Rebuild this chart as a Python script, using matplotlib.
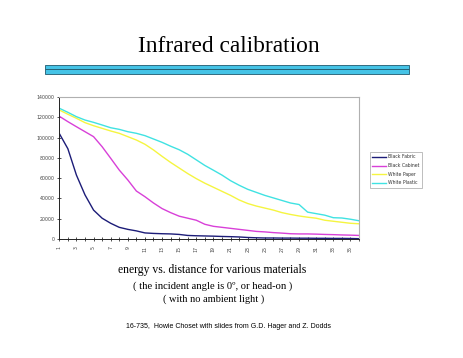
import matplotlib
matplotlib.use("Agg")
import matplotlib.pyplot as plt
from matplotlib.patches import Rectangle
import numpy as np

distance = list(range(1, 37))
x_tick_labels = [str(i) for i in range(1, 36, 2)]

black_fabric = [104000, 89000, 63000, 43500, 28500, 20500, 15500, 11500, 9500, 8000,
                6000, 5500, 5200, 5000, 4500, 3500, 3200, 3000, 2800, 2500,
                2300, 2000, 1500, 1200, 1000, 1000, 900, 900, 800, 800,
                700, 700, 600, 600, 500, 300]
black_cabinet = [121000, 115700, 110700, 105800, 100900, 91000, 79600, 68000, 58200, 47300,
                 41700, 35500, 30000, 26000, 22500, 20500, 18500, 14500, 12500, 11500,
                 10500, 9500, 8500, 7500, 7000, 6300, 5800, 5200, 5000, 5000,
                 4800, 4500, 4300, 4000, 3800, 3500]
white_paper = [127200, 123000, 119000, 114700, 111700, 109100, 106500, 104200, 100900, 97600,
               93400, 87800, 81500, 75500, 70000, 64500, 59500, 55000, 51000, 47000,
               43000, 38500, 35000, 32500, 30500, 28500, 26000, 24200, 22700, 21500,
               20500, 18500, 17500, 16500, 15500, 15000]
white_plastic = [128900, 124900, 120600, 117300, 115000, 112400, 109700, 108100, 105800, 104200,
                 101900, 98600, 95300, 91500, 88000, 83500, 78000, 72500, 67800, 63000,
                 57500, 53000, 49000, 46000, 43000, 40500, 38000, 35500, 34000, 26500,
                 25000, 23500, 21000, 20700, 19500, 18000]

series_names = ["Black Fabric", "Black Cabinet", "White Paper", "White Plastic"]
series_values = [black_fabric, black_cabinet, white_paper, white_plastic]
colors = ["#1c1c78", "#d840d8", "#f5f540", "#40e2e2"]

W, H = 463, 358
fig = plt.figure(figsize=(W / 100, H / 100), dpi=100)
fig.patch.set_facecolor("white")

# Title
fig.text(229 / W, 1 - 47 / H, "Infrared calibration", ha="center", va="center",
         family="Liberation Serif", fontsize=16.8, color="black")

# Double blue bar
for y0 in (65, 69.3):
    fig.patches.append(Rectangle((45 / W, 1 - (y0 + 4.3) / H), (409 - 45) / W, 4.3 / H,
                                 transform=fig.transFigure, facecolor="#45c3e6",
                                 edgecolor="#205a6e", linewidth=0.6))

ax = fig.add_axes([59.3 / W, 1 - 239 / H, (359 - 59.3) / W, (239 - 97) / H])
for name, vals, c in zip(series_names, series_values, colors):
    ax.plot(distance, vals, color=c, linewidth=1.0, label=name)

ax.set_xlim(1, 36)
ax.set_ylim(0, 140000)
ax.set_yticks(np.arange(0, 140001, 20000))
ax.set_yticklabels([str(v) for v in range(0, 140001, 20000)])
ax.set_xticks(distance, minor=True)
ax.set_xticks(list(range(1, 36, 2)))
ax.set_xticklabels(x_tick_labels, rotation=90)
ax.tick_params(axis="both", which="both", direction="inout", length=3.5, width=0.6,
               labelsize=3.4, labelcolor="#444444", colors="#333333", pad=1.5)
ax.tick_params(axis="x", which="major", pad=3)
ax.spines["left"].set_color("#222222")
ax.spines["bottom"].set_color("#222222")
ax.spines["left"].set_linewidth(0.7)
ax.spines["bottom"].set_linewidth(0.7)
ax.spines["top"].set_color("#b0b0b0")
ax.spines["right"].set_color("#b0b0b0")
ax.spines["top"].set_linewidth(0.8)
ax.spines["right"].set_linewidth(0.8)

leg = fig.legend(loc="upper left", bbox_to_anchor=(369.5 / W, 1 - 151.7 / H),
                 fontsize=3.3, frameon=True, fancybox=False, handlelength=3,
                 handletextpad=0.4, borderpad=0.6, labelspacing=0.8, borderaxespad=0)
leg.get_frame().set_edgecolor("#a0a0a0")
leg.get_frame().set_linewidth(0.6)
for t in leg.get_texts():
    t.set_color("#333333")

fig.text(212.5 / W, 1 - 270 / H, "energy vs. distance for various materials",
         ha="center", va="center", family="Liberation Serif", fontsize=8.4)
fig.text(213 / W, 1 - 285.7 / H, "( the incident angle is 0º, or head-on )",
         ha="center", va="center", family="Liberation Serif", fontsize=7.6)
fig.text(213.3 / W, 1 - 299 / H, "( with no ambient light )",
         ha="center", va="center", family="Liberation Serif", fontsize=7.5)
fig.text(228 / W, 1 - 326.7 / H,
         "16-735,  Howie Choset with slides from G.D. Hager and Z. Dodds",
         ha="center", va="center", family="Liberation Sans", fontsize=5.0)

fig.savefig("out.png", dpi=100, facecolor="white")
